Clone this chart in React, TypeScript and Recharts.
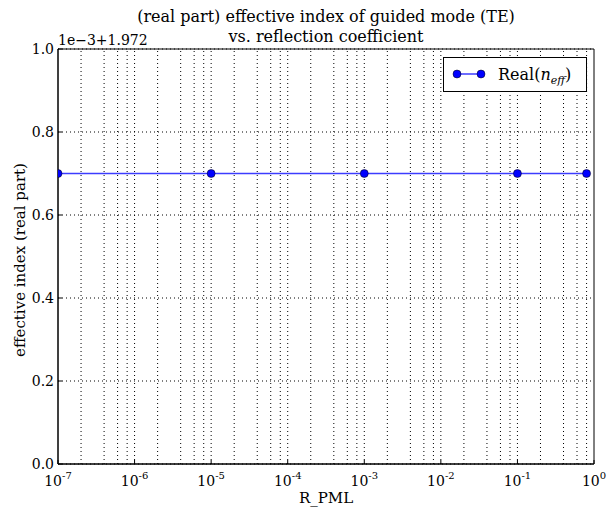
import React from 'react';
import { LineChart, Line, XAxis, YAxis, CartesianGrid, ReferenceLine, ReferenceArea } from 'recharts';

const FONT = "'DejaVu Serif', 'Times New Roman', 'Liberation Serif', Times, serif";

// reflection coefficient values and real part of n_eff (offset 1e-3 + 1.972)
const rPml = [1e-7, 1e-5, 1e-3, 1e-1, 0.8];
const realIndex = [0.7, 0.7, 0.7, 0.7, 0.7];

const decadeTicks = [1e-7, 1e-6, 1e-5, 1e-4, 1e-3, 1e-2, 1e-1, 1];
const decadeLabels = ['-7', '-6', '-5', '-4', '-3', '-2', '-1', '0'];
const minorMultipliers = [2, 4, 6, 8];
const yTicks = [0, 0.2, 0.4, 0.6, 0.8, 1.0];

const data = rPml.map((r, i) => ({ r, value: realIndex[i] }));

// vertical grid: inner decades plus minor positions
const gridX = [
  ...decadeTicks.slice(1, -1),
  ...decadeTicks.slice(0, -1).flatMap((d) => minorMultipliers.map((m) => d * m)),
];

const XTick = (props: any) => {
  const { x, y, index } = props;
  return (
    <g>
      <line x1={x} x2={x} y1={y} y2={y - 4} stroke="#000" />
      <text x={x} y={y + 22} textAnchor="middle" fontSize={14} fontFamily={FONT} fill="#000">
        10
        <tspan dy={-7} fontSize={10}>{decadeLabels[index]}</tspan>
      </text>
    </g>
  );
};

const YTick = (props: any) => {
  const { x, y, payload } = props;
  return (
    <g>
      <line x1={x} x2={x + 4} y1={y} y2={y} stroke="#000" />
      <text x={x - 4} y={y + 5} textAnchor="end" fontSize={14} fontFamily={FONT} fill="#000">
        {payload.value.toFixed(1)}
      </text>
    </g>
  );
};

const LegendBox = () => (
  <svg width={144} height={35} style={{ position: 'absolute', left: 443, top: 57 }}>
    <rect x={0.5} y={0.5} width={143} height={34} fill="#fff" stroke="#000" />
    <line x1={14} x2={38} y1={17} y2={17} stroke="#3c3cff" strokeWidth={1.5} />
    <circle cx={14} cy={17} r={4} fill="#0000ff" stroke="#000" strokeWidth={0.5} />
    <circle cx={38} cy={17} r={4} fill="#0000ff" stroke="#000" strokeWidth={0.5} />
    <text x={55} y={23} fontSize={16} fontFamily={FONT} fill="#000">
      Real(<tspan fontStyle="italic">n</tspan>
      <tspan dy={4} fontSize={11} fontStyle="italic">eff</tspan>
      <tspan dy={-4}>)</tspan>
    </text>
  </svg>
);

export default function App() {
  return (
    <div style={{ position: 'absolute', left: 0, top: 0, width: 608, height: 508, background: '#fff', fontFamily: FONT }}>
      <LineChart width={608} height={508} data={data} margin={{ top: 49, right: 14, bottom: 0, left: 0 }}>
        <CartesianGrid vertical={false} horizontal stroke="#000" strokeDasharray="1 3" />
        {gridX.map((g) => (
          <ReferenceLine key={g} x={g} stroke="#000" strokeDasharray="1 3" />
        ))}
        <XAxis
          dataKey="r"
          type="number"
          scale="log"
          domain={[1e-7, 1]}
          allowDataOverflow
          ticks={decadeTicks}
          interval={0}
          height={44}
          tickSize={0}
          tickMargin={0}
          tickLine={false}
          axisLine={{ stroke: '#000' }}
          tick={<XTick />}
        />
        <YAxis
          type="number"
          domain={[0, 1]}
          ticks={yTicks}
          interval={0}
          width={58}
          tickSize={0}
          tickMargin={0}
          tickLine={false}
          axisLine={{ stroke: '#000' }}
          tick={<YTick />}
        />
        <ReferenceArea x1={1e-7} x2={1} y1={0} y2={1} fill="none" stroke="#000" strokeWidth={1} />
        <Line
          dataKey="value"
          stroke="#3c3cff"
          strokeWidth={1.5}
          dot={{ r: 4, fill: '#0000ff', stroke: '#000', strokeWidth: 0.5 }}
          isAnimationActive={false}
        />
      </LineChart>
      <div style={{ position: 'absolute', left: 0, top: 7, width: 652, textAlign: 'center', fontSize: 16, lineHeight: '20px', color: '#000' }}>
        (real part) effective index of guided mode (TE)
        <br />
        vs. reflection coefficient
      </div>
      <div style={{ position: 'absolute', left: 58, top: 32, fontSize: 14, color: '#000' }}>1e−3+1.972</div>
      <div
        style={{
          position: 'absolute',
          left: 20,
          top: 260,
          fontSize: 15,
          color: '#000',
          whiteSpace: 'nowrap',
          transform: 'translate(-50%, -50%) rotate(-90deg)',
        }}
      >
        effective index (real part)
      </div>
      <div style={{ position: 'absolute', left: 0, width: 652, top: 489, textAlign: 'center', fontSize: 15, color: '#000' }}>
        R_PML
      </div>
      <LegendBox />
    </div>
  );
}
